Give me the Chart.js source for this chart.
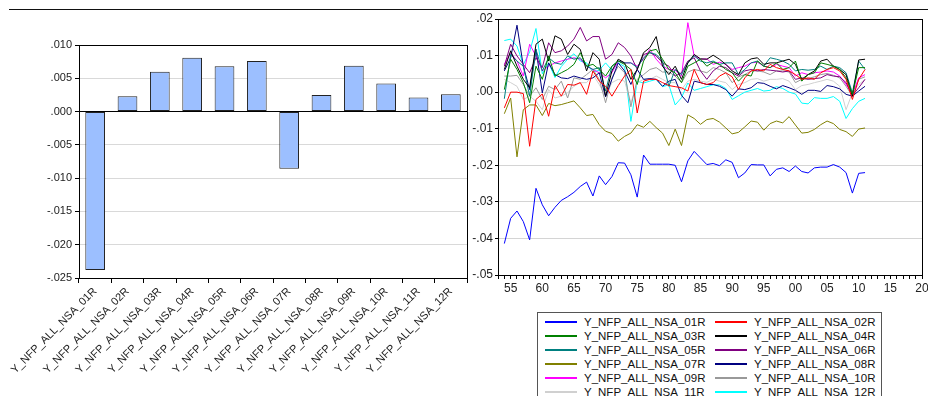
<!DOCTYPE html>
<html>
<head>
<meta charset="utf-8">
<script src="https://cdn.jsdelivr.net/npm/chart.js@4.4.1/dist/chart.umd.min.js"></script>
<style>
  html, body { margin: 0; padding: 0; background: #fff; overflow: hidden; }
  body { width: 928px; height: 396px; position: relative; font-family: Arial, "Liberation Sans", sans-serif; }
  #topline { position: absolute; left: 9px; top: 9px; width: 919px; height: 0; border-top: 1.5px solid #111; }
  #bars { position: absolute; left: 0; top: 0; }
  #lines { position: absolute; left: 460px; top: 0; }
  #legend { position: absolute; left: 537px; top: 312px; width: 345px; height: 100px; box-sizing: border-box;
            border: 1px solid #555; padding-top: 2px; display: grid; grid-template-columns: 170px 170px;
            grid-auto-rows: 14px; font-size: 11.5px; line-height: 14px; color: #111; }
  .item { height: 14px; display: flex; align-items: center; padding-left: 7px; white-space: nowrap; }
  .item span.ln { display: inline-block; width: 32px; height: 0; border-top: 2px solid; margin-right: 7px; }
</style>
</head>
<body>
<div id="topline"></div>
<canvas id="bars" width="480" height="396"></canvas>
<canvas id="lines" width="480" height="310"></canvas>
<div id="legend"></div>
<script>
// category names (bars + line series)
const seriesNames = ['Y_NFP_ALL_NSA_01R', 'Y_NFP_ALL_NSA_02R', 'Y_NFP_ALL_NSA_03R', 'Y_NFP_ALL_NSA_04R',
  'Y_NFP_ALL_NSA_05R', 'Y_NFP_ALL_NSA_06R', 'Y_NFP_ALL_NSA_07R', 'Y_NFP_ALL_NSA_08R',
  'Y_NFP_ALL_NSA_09R', 'Y_NFP_ALL_NSA_10R', 'Y_NFP_ALL_NSA_11R', 'Y_NFP_ALL_NSA_12R'];

// means (left panel)
const meanValues = [-0.0238, 0.0023, 0.0060, 0.0081, 0.0068, 0.0076, -0.0086, 0.0025, 0.0069, 0.0042, 0.0021, 0.0026];

const years = [1954, 1955, 1956, 1957, 1958, 1959, 1960, 1961, 1962, 1963, 1964, 1965, 1966, 1967, 1968, 1969,
  1970, 1971, 1972, 1973, 1974, 1975, 1976, 1977, 1978, 1979, 1980, 1981, 1982, 1983, 1984, 1985, 1986, 1987,
  1988, 1989, 1990, 1991, 1992, 1993, 1994, 1995, 1996, 1997, 1998, 1999, 2000, 2001, 2002, 2003, 2004, 2005,
  2006, 2007, 2008, 2009, 2010, 2011];

const s01 = [-.0414, -.0345, -.0325, -.0354, -.0404, -.0263, -.0308, -.0338, -.0315, -.0296, -.0286, -.0274, -.0258, -.0246, -.0284, -.0229,
  -.0253, -.0231, -.0193, -.0194, -.0226, -.0287, -.0172, -.0197, -.0197, -.0197, -.0197, -.0200, -.0245, -.0188, -.0162, -.0180, -.0198, -.0195,
  -.0201, -.0185, -.0192, -.0234, -.0221, -.0198, -.0199, -.0199, -.0229, -.0211, -.0207, -.0217, -.0202, -.0217, -.0221, -.0207, -.0205, -.0205,
  -.0198, -.0205, -.0220, -.0276, -.0222, -.0220];
const s02 = [-.0043, .0000, .0000, -.0004, -.0148, -.0020, -.0005, -.0066, .0018, -.0011, .0021, .0019, .0026, -.0006, .0058, .0030,
  .0016, -.0011, .0018, .0044, .0062, -.0057, .0030, .0035, .0035, .0026, .0018, .0015, .0012, .0003, .0062, .0026, .0021, .0026,
  .0044, .0053, .0042, .0007, .0039, .0058, .0062, .0058, .0076, .0067, .0062, .0058, .0048, .0035, .0039, .0035, .0053, .0062,
  .0067, .0058, .0035, -.0020, .0035, .0062];
const s03 = [.0007, .0090, .0062, .0026, -.0029, .0071, .0035, .0099, .0044, .0053, .0062, .0076, .0108, .0071, .0076, .0062,
  .0044, .0071, .0085, .0076, .0062, .0021, .0085, .0113, .0117, .0090, .0062, .0053, .0026, .0071, .0080, .0090, .0071, .0082,
  .0076, .0062, .0053, .0030, .0048, .0044, .0085, .0071, .0067, .0080, .0062, .0067, .0085, .0030, .0048, .0053, .0080, .0076,
  .0071, .0062, .0039, -.0006, .0067, .0067];
const s04 = [.0062, .0113, .0071, .0035, .0012, .0131, .0145, .0085, .0154, .0145, .0103, .0131, .0117, .0058, .0108, .0090,
  -.0011, .0058, .0090, .0080, .0035, .0062, .0108, .0122, .0152, .0071, .0048, .0071, .0035, .0080, .0103, .0091, .0090, .0101,
  .0090, .0076, .0058, .0048, .0080, .0091, .0094, .0076, .0080, .0080, .0085, .0090, .0076, .0035, .0048, .0058, .0085, .0090,
  .0071, .0062, .0048, -.0011, .0088, .0090];
const s05 = [-.0018, .0103, .0085, .0071, -.0011, .0117, .0058, .0094, .0080, .0076, .0099, .0090, .0094, .0071, .0062, .0067,
  .0003, .0071, .0085, .0080, .0080, .0067, .0094, .0108, .0103, .0085, .0016, .0062, .0048, .0080, .0099, .0085, .0080, .0085,
  .0076, .0080, .0080, .0048, .0062, .0080, .0085, .0071, .0094, .0090, .0085, .0076, .0058, .0062, .0060, .0062, .0071, .0062,
  .0071, .0067, .0053, -.0002, .0085, .0062];
const s06 = [.0071, .0131, .0099, .0076, .0053, .0094, .0067, .0135, .0108, .0113, .0126, .0145, .0177, .0140, .0152, .0152,
  .0090, .0103, .0135, .0122, .0099, .0062, .0103, .0108, .0099, .0080, .0071, .0044, .0053, .0085, .0094, .0058, .0035, .0058,
  .0071, .0067, .0053, .0044, .0058, .0062, .0058, .0062, .0060, .0058, .0055, .0058, .0035, .0039, .0035, .0037, .0039, .0048,
  .0044, .0042, .0026, -.0009, .0012, .0035];
const s07 = [-.0059, -.0016, -.0177, -.0048, -.0035, -.0035, -.0064, -.0031, -.0037, -.0034, -.0029, -.0024, -.0043, -.0064, -.0061, -.0089,
  -.0107, -.0113, -.0134, -.0121, -.0112, -.0089, -.0096, -.0080, -.0097, -.0112, -.0146, -.0101, -.0146, -.0062, -.0072, -.0088, -.0075, -.0072,
  -.0082, -.0098, -.0114, -.0110, -.0095, -.0079, -.0082, -.0104, -.0086, -.0079, -.0084, -.0067, -.0090, -.0112, -.0110, -.0102, -.0089, -.0079,
  -.0086, -.0102, -.0108, -.0121, -.0101, -.0098];
const s08 = [.0058, .0094, .0183, .0071, .0007, .0117, -.0002, .0080, .0048, .0039, .0037, .0044, .0039, .0035, .0039, .0053,
  -.0013, .0035, .0080, .0058, .0021, .0062, .0035, .0037, .0035, .0016, .0030, .0035, -.0009, -.0029, .0030, .0026, .0021, .0021,
  .0016, .0007, -.0011, .0009, .0007, .0012, .0026, .0024, .0016, .0009, .0018, .0012, .0005, -.0006, .0005, .0005, .0002, .0018,
  .0015, .0009, -.0006, -.0011, .0003, .0016];
const s09 = [.0076, .0108, .0085, .0044, .0131, .0099, .0058, .0071, .0080, .0085, .0090, .0094, .0090, .0071, .0062, .0053,
  .0039, .0053, .0085, .0080, .0080, .0071, .0090, .0117, .0090, .0071, .0062, .0060, .0044, .0190, .0099, .0090, .0091, .0076,
  .0082, .0076, .0062, .0067, .0071, .0080, .0082, .0071, .0067, .0076, .0071, .0067, .0044, .0053, .0048, .0053, .0055, .0058,
  .0055, .0044, .0021, -.0006, .0039, .0048];
const s10 = [.0044, .0044, .0046, .0021, -.0011, .0012, -.0020, .0016, .0007, .0030, -.0016, .0039, .0035, .0048, .0062, .0035,
  -.0029, .0039, .0071, .0053, -.0040, .0035, .0048, .0062, .0067, .0055, .0055, .0044, .0026, .0055, .0062, .0058, .0053, .0067,
  .0062, .0053, .0026, .0042, .0048, .0058, .0058, .0055, .0048, .0058, .0058, .0055, .0026, .0035, .0037, .0042, .0048, .0051,
  .0046, .0039, .0016, -.0011, .0035, .0042];
const s11 = [.0035, .0026, .0016, -.0020, -.0011, -.0025, -.0048, .0007, -.0016, -.0011, -.0002, .0016, .0026, .0026, .0048, .0021,
  -.0011, .0026, .0035, .0030, -.0029, .0026, .0035, .0035, .0044, .0035, .0026, .0026, .0007, .0030, .0035, .0030, .0027, .0035,
  .0030, .0026, .0007, .0021, .0026, .0035, .0037, .0030, .0035, .0035, .0037, .0030, .0007, .0018, .0021, .0026, .0030, .0035,
  .0030, .0016, -.0048, -.0002, .0021, .0035];
const s12 = [.0141, .0145, .0126, .0075, .0110, .0174, .0050, .0080, .0040, .0070, .0090, .0105, .0085, .0080, .0055, .0060,
  .0080, .0060, .0080, .0070, -.0080, .0030, .0025, .0030, .0035, .0015, .0020, -.0035, -.0015, .0025, .0005, .0010, .0015, .0020,
  .0020, .0010, -.0020, -.0010, .0000, .0005, .0010, .0003, .0005, .0015, .0010, .0000, -.0005, -.0030, -.0032, -.0015, -.0017, -.0017,
  -.0012, -.0025, -.0072, -.0045, -.0025, -.0017];

const lineSeries = [s01, s02, s03, s04, s05, s06, s07, s08, s09, s10, s11, s12];
const lineColors = ['#0000ff', '#ff0000', '#008000', '#000000', '#008080', '#800080',
  '#808000', '#000080', '#ff00ff', '#999999', '#d0d0d0', '#00ffff'];

const font = 'Arial, "Liberation Sans", sans-serif';

// frame round the plot area
const frame = {
  id: 'frame',
  afterDraw(chart) {
    const { ctx, chartArea: a } = chart;
    ctx.save();
    ctx.strokeStyle = '#000';
    ctx.lineWidth = 1;
    ctx.strokeRect(Math.round(a.left) + 0.5, Math.round(a.top) + 0.5,
      Math.round(a.right - a.left), Math.round(a.bottom - a.top));
    ctx.restore();
  }
};

// left: bar chart of means
new Chart(document.getElementById('bars'), {
  type: 'bar',
  data: {
    labels: seriesNames,
    datasets: [{
      data: meanValues,
      backgroundColor: '#9cbfff',
      borderColor: '#222',
      borderWidth: 1,
      borderSkipped: false,
      categoryPercentage: 1,
      barPercentage: 0.61
    }]
  },
  options: {
    responsive: false,
    animation: false,
    layout: { padding: { top: 45, right: 13, left: 0, bottom: 0 } },
    plugins: { legend: { display: false }, tooltip: { enabled: false } },
    scales: {
      x: {
        grid: { drawOnChartArea: false, tickLength: 5, tickColor: '#000', offset: true },
        border: { color: '#000' },
        ticks: { minRotation: 45, maxRotation: 45, autoSkip: false, padding: 2,
                 color: '#222', font: { family: font, size: 11 } },
        afterFit(s) { s.height = 118; }
      },
      y: {
        min: -0.025, max: 0.010,
        grid: { color: c => (c.tick && Math.abs(c.tick.value) < 1e-9) ? '#000' : '#d9d9d9',
                tickLength: 4, tickColor: '#000' },
        border: { color: '#000' },
        ticks: { stepSize: 0.005, padding: 3, color: '#222', font: { family: font, size: 11 },
                 callback: v => v.toFixed(3).replace('0.', '.') },
        afterFit(s) { s.width = 79; }
      }
    }
  },
  plugins: [frame]
});

// right: the twelve series over time
new Chart(document.getElementById('lines'), {
  type: 'line',
  data: {
    datasets: lineSeries.map((vals, i) => ({
      label: seriesNames[i],
      data: vals.map((v, j) => ({ x: years[j], y: v })),
      borderColor: lineColors[i],
      borderWidth: 1,
      pointRadius: 0,
      tension: 0,
      fill: false
    }))
  },
  options: {
    responsive: false,
    animation: false,
    layout: { padding: { top: 19, right: 18, left: 0, bottom: 0 } },
    plugins: { legend: { display: false }, tooltip: { enabled: false } },
    scales: {
      x: {
        type: 'linear', min: 1953, max: 2020,
        grid: { drawOnChartArea: false, tickLength: 4, tickColor: '#000' },
        border: { color: '#000' },
        ticks: { stepSize: 1, autoSkip: false, maxRotation: 0, padding: 2, color: '#222',
                 font: { family: font, size: 12 },
                 callback: v => (v % 5 === 0 ? String(v % 100).padStart(2, '0') : '') },
        afterFit(s) { s.height = 35; }
      },
      y: {
        min: -0.05, max: 0.02,
        grid: { color: '#d4d4d4', tickLength: 3, tickColor: '#000' },
        border: { color: '#000' },
        ticks: { stepSize: 0.01, padding: 2, color: '#222', font: { family: font, size: 12 },
                 callback: v => v.toFixed(2).replace('0.', '.') },
        afterFit(s) { s.width = 38; }
      }
    }
  },
  plugins: [frame]
});

// legend below the line chart, two columns
const legend = document.getElementById('legend');
seriesNames.forEach((name, i) => {
  const el = document.createElement('div');
  el.className = 'item';
  el.innerHTML = `<span class="ln" style="border-color:${lineColors[i]}"></span>${name}`;
  legend.appendChild(el);
});
</script>
</body>
</html>
